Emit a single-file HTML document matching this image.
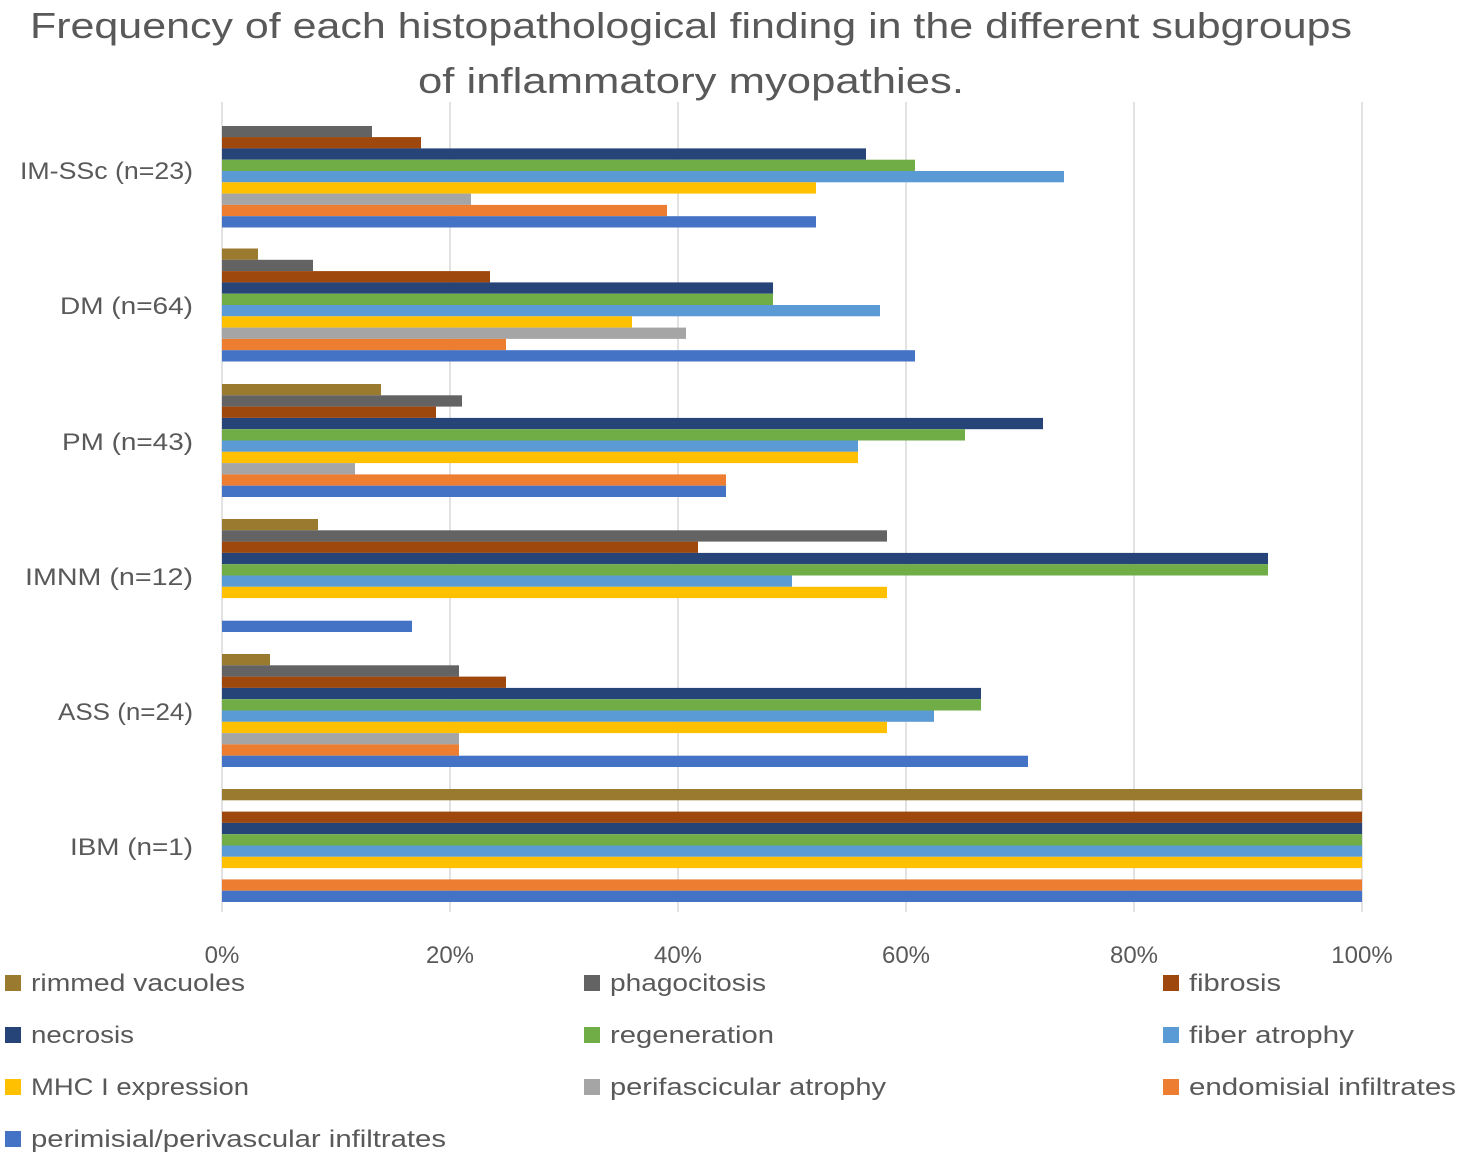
<!DOCTYPE html>
<html><head><meta charset="utf-8"><style>
html,body{margin:0;padding:0;background:#fff;}
svg{display:block;font-family:"Liberation Sans",sans-serif;}
</style></head><body>
<svg width="1463" height="1159" xmlns="http://www.w3.org/2000/svg">
<rect width="1463" height="1159" fill="#fff"/>
<text x="691" y="38" font-size="36" fill="#595959" text-anchor="middle" textLength="1322" lengthAdjust="spacingAndGlyphs">Frequency of each histopathological finding in the different subgroups</text>
<text x="691" y="93" font-size="36" fill="#595959" text-anchor="middle" textLength="546" lengthAdjust="spacingAndGlyphs">of inflammatory myopathies.</text>
<g stroke="#d9d9d9" stroke-width="1.5">
<line x1="222" y1="102" x2="222" y2="912"/><line x1="450" y1="102" x2="450" y2="912"/><line x1="678" y1="102" x2="678" y2="912"/><line x1="906" y1="102" x2="906" y2="912"/><line x1="1134" y1="102" x2="1134" y2="912"/><line x1="1362" y1="102" x2="1362" y2="912"/>
</g>
<g font-size="24" fill="#595959" text-anchor="end" lengthAdjust="spacingAndGlyphs">
<text x="193" y="179" textLength="173" lengthAdjust="spacingAndGlyphs">IM-SSc (n=23)</text>
<text x="193" y="314" textLength="133" lengthAdjust="spacingAndGlyphs">DM (n=64)</text>
<text x="193" y="450" textLength="131" lengthAdjust="spacingAndGlyphs">PM (n=43)</text>
<text x="193" y="585" textLength="168" lengthAdjust="spacingAndGlyphs">IMNM (n=12)</text>
<text x="193" y="720" textLength="135" lengthAdjust="spacingAndGlyphs">ASS (n=24)</text>
<text x="193" y="855" textLength="123" lengthAdjust="spacingAndGlyphs">IBM (n=1)</text>
</g>
<g font-size="24" fill="#595959" text-anchor="middle">
<text x="222" y="963">0%</text><text x="450" y="963">20%</text><text x="678" y="963">40%</text><text x="906" y="963">60%</text><text x="1134" y="963">80%</text><text x="1362" y="963">100%</text>
</g>
<g font-size="24" fill="#595959">
<rect x="5" y="975" width="16" height="16" fill="#997a2e"/><text x="31" y="991" textLength="214" lengthAdjust="spacingAndGlyphs">rimmed vacuoles</text>
<rect x="584" y="975" width="16" height="16" fill="#636363"/><text x="610" y="991" textLength="156" lengthAdjust="spacingAndGlyphs">phagocitosis</text>
<rect x="1163" y="975" width="16" height="16" fill="#9e480e"/><text x="1189" y="991" textLength="92" lengthAdjust="spacingAndGlyphs">fibrosis</text>
<rect x="5" y="1027" width="16" height="16" fill="#264478"/><text x="31" y="1043" textLength="103" lengthAdjust="spacingAndGlyphs">necrosis</text>
<rect x="584" y="1027" width="16" height="16" fill="#70ad47"/><text x="610" y="1043" textLength="164" lengthAdjust="spacingAndGlyphs">regeneration</text>
<rect x="1163" y="1027" width="16" height="16" fill="#5b9bd5"/><text x="1189" y="1043" textLength="165" lengthAdjust="spacingAndGlyphs">fiber atrophy</text>
<rect x="5" y="1079" width="16" height="16" fill="#ffc000"/><text x="31" y="1095" textLength="218" lengthAdjust="spacingAndGlyphs">MHC I expression</text>
<rect x="584" y="1079" width="16" height="16" fill="#a5a5a5"/><text x="610" y="1095" textLength="276" lengthAdjust="spacingAndGlyphs">perifascicular atrophy</text>
<rect x="1163" y="1079" width="16" height="16" fill="#ed7d31"/><text x="1189" y="1095" textLength="267" lengthAdjust="spacingAndGlyphs">endomisial infiltrates</text>
<rect x="5" y="1131" width="16" height="16" fill="#4472c4"/><text x="31" y="1147" textLength="415" lengthAdjust="spacingAndGlyphs">perimisial/perivascular infiltrates</text>
</g>
<g>
<rect x="222" y="126" width="150" height="11.3" fill="#636363"/>
<rect x="222" y="137.1" width="199" height="11.3" fill="#9e480e"/>
<rect x="222" y="148.4" width="644" height="11.3" fill="#264478"/>
<rect x="222" y="159.7" width="693" height="11.3" fill="#70ad47"/>
<rect x="222" y="171" width="842" height="11.3" fill="#5b9bd5"/>
<rect x="222" y="182.3" width="594" height="11.3" fill="#ffc000"/>
<rect x="222" y="193.6" width="249" height="11.3" fill="#a5a5a5"/>
<rect x="222" y="204.9" width="445" height="11.3" fill="#ed7d31"/>
<rect x="222" y="216.2" width="594" height="11.3" fill="#4472c4"/>
<rect x="222" y="248.5" width="36" height="11.3" fill="#997a2e"/>
<rect x="222" y="259.8" width="91" height="11.3" fill="#636363"/>
<rect x="222" y="271.1" width="268" height="11.3" fill="#9e480e"/>
<rect x="222" y="282.4" width="551" height="11.3" fill="#264478"/>
<rect x="222" y="293.7" width="551" height="11.3" fill="#70ad47"/>
<rect x="222" y="305" width="658" height="11.3" fill="#5b9bd5"/>
<rect x="222" y="316.3" width="410" height="11.3" fill="#ffc000"/>
<rect x="222" y="327.6" width="464" height="11.3" fill="#a5a5a5"/>
<rect x="222" y="338.9" width="284" height="11.3" fill="#ed7d31"/>
<rect x="222" y="350.2" width="693" height="11.3" fill="#4472c4"/>
<rect x="222" y="384" width="159" height="11.3" fill="#997a2e"/>
<rect x="222" y="395.3" width="240" height="11.3" fill="#636363"/>
<rect x="222" y="406.6" width="214" height="11.3" fill="#9e480e"/>
<rect x="222" y="417.9" width="821" height="11.3" fill="#264478"/>
<rect x="222" y="429.2" width="743" height="11.3" fill="#70ad47"/>
<rect x="222" y="440.5" width="636" height="11.3" fill="#5b9bd5"/>
<rect x="222" y="451.8" width="636" height="11.3" fill="#ffc000"/>
<rect x="222" y="463.1" width="133" height="11.3" fill="#a5a5a5"/>
<rect x="222" y="474.4" width="504" height="11.3" fill="#ed7d31"/>
<rect x="222" y="485.7" width="504" height="11.3" fill="#4472c4"/>
<rect x="222" y="519" width="96" height="11.3" fill="#997a2e"/>
<rect x="222" y="530.3" width="665" height="11.3" fill="#636363"/>
<rect x="222" y="541.6" width="476" height="11.3" fill="#9e480e"/>
<rect x="222" y="552.9" width="1046" height="11.3" fill="#264478"/>
<rect x="222" y="564.2" width="1046" height="11.3" fill="#70ad47"/>
<rect x="222" y="575.5" width="570" height="11.3" fill="#5b9bd5"/>
<rect x="222" y="586.8" width="665" height="11.3" fill="#ffc000"/>
<rect x="222" y="620.7" width="190" height="11.3" fill="#4472c4"/>
<rect x="222" y="654" width="48" height="11.3" fill="#997a2e"/>
<rect x="222" y="665.3" width="237" height="11.3" fill="#636363"/>
<rect x="222" y="676.6" width="284" height="11.3" fill="#9e480e"/>
<rect x="222" y="687.9" width="759" height="11.3" fill="#264478"/>
<rect x="222" y="699.2" width="759" height="11.3" fill="#70ad47"/>
<rect x="222" y="710.5" width="712" height="11.3" fill="#5b9bd5"/>
<rect x="222" y="721.8" width="665" height="11.3" fill="#ffc000"/>
<rect x="222" y="733.1" width="237" height="11.3" fill="#a5a5a5"/>
<rect x="222" y="744.4" width="237" height="11.3" fill="#ed7d31"/>
<rect x="222" y="755.7" width="806" height="11.3" fill="#4472c4"/>
<rect x="222" y="789" width="1140" height="11.3" fill="#997a2e"/>
<rect x="222" y="811.6" width="1140" height="11.3" fill="#9e480e"/>
<rect x="222" y="822.9" width="1140" height="11.3" fill="#264478"/>
<rect x="222" y="834.2" width="1140" height="11.3" fill="#70ad47"/>
<rect x="222" y="845.5" width="1140" height="11.3" fill="#5b9bd5"/>
<rect x="222" y="856.8" width="1140" height="11.3" fill="#ffc000"/>
<rect x="222" y="879.4" width="1140" height="11.3" fill="#ed7d31"/>
<rect x="222" y="890.7" width="1140" height="11.3" fill="#4472c4"/>
</g>
</svg>
</body></html>
